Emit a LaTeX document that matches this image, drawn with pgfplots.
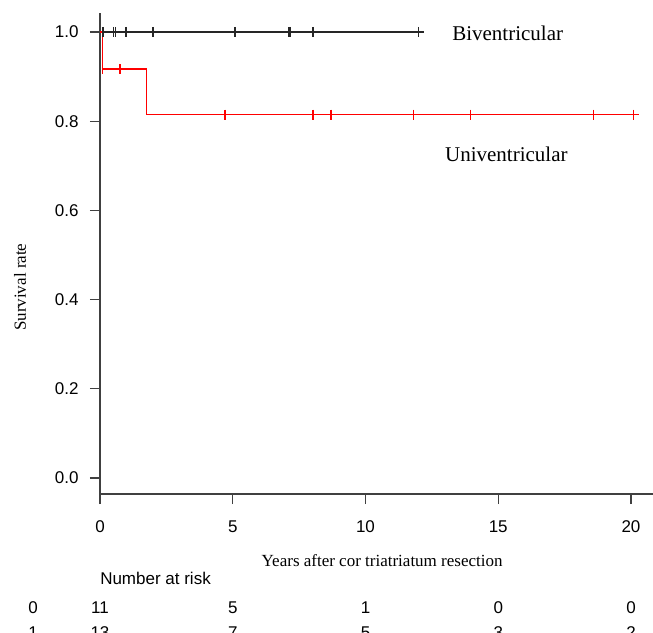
\documentclass[border=0pt]{standalone}
\usepackage{fontspec}
\setmainfont{Liberation Serif}
\newfontfamily\sansf{Liberation Sans}
\usepackage{pgfplots}
\pgfplotsset{compat=1.18}
\begin{document}
\begin{tikzpicture}[x=0.75pt,y=0.75pt]
\useasboundingbox (0,0) rectangle (653,632);
\clip (0,0) rectangle (653,632);
\begin{axis}[
  at={(75pt,103.5pt)}, anchor=south west,
  scale only axis, width=418.16pt, height=360.75pt,
  xmin=0, xmax=21, ymin=-0.0359, ymax=1.0426,
  axis x line=bottom, axis y line=left,
  axis line style={-, line width=0.9pt, black!75},
  tick style={line width=0.9pt, black!75},
  tick align=outside, major tick length=7.5pt,
  xtick={0,5,10,15,20}, ytick={0,0.2,0.4,0.6,0.8,1},
  minor tick num=0,
  /pgf/number format/assume math mode=true,
  ticklabel style={font=\sansf\fontsize{12.75}{15}\selectfont},
  xticklabel style={yshift=-9pt},
  yticklabel style={xshift=-5pt, /pgf/number format/.cd, fixed, fixed zerofill, precision=1},
  clip=false,
  every axis x label/.style={at={(axis description cs:0.506,0)}, yshift=-50.25pt, anchor=center, font=\fontsize{12.75}{15}\selectfont},
  every axis y label/.style={at={(axis description cs:0,0.43)}, xshift=-60pt, rotate=90, anchor=center, font=\fontsize{12.75}{15}\selectfont},
  xlabel={Years after cor triatriatum resection},
  ylabel={Survival rate},
]
% Biventricular
\addplot[black!85, line width=0.9pt] coordinates {(0,1) (12.2,1)};
\addplot[black!85, only marks, mark=|, mark size=3.75pt, mark options={line width=1.1pt}] coordinates {
  (0.12,1) (0.5,1) (0.59,1) (0.98,1) (2.0,1) (5.08,1) (7.12,1) (7.16,1) (8.03,1) (11.99,1)};
% Univentricular
\addplot[red, line width=0.9pt] coordinates {
  (0,1) (0.1,1) (0.1,0.917) (1.76,0.917) (1.76,0.815) (20.31,0.815)};
\addplot[red, only marks, mark=|, mark size=3.75pt, mark options={line width=1.1pt}] coordinates {
  (0.1,0.917) (0.75,0.917) (4.71,0.815) (8.03,0.815) (8.70,0.815) (11.8,0.815)
  (13.96,0.815) (18.58,0.815) (20.09,0.815)};
\node[anchor=west, inner sep=0pt, font=\fontsize{15.75}{18}\selectfont] at (axis cs:13.26,0.998) {Biventricular};
\node[anchor=west, inner sep=0pt, font=\fontsize{15.75}{18}\selectfont] at (axis cs:12.99,0.7265) {Univentricular};
% Number at risk
\begin{scope}[font=\sansf\fontsize{12.75}{15}\selectfont]
\node[anchor=west, inner sep=0pt] at (axis cs:0,-0.2242) {Number at risk};
\node at (axis cs:-2.52,-0.2915) {0};
\node at (axis cs:0,-0.2915) {11};
\node at (axis cs:5,-0.2915) {5};
\node at (axis cs:10,-0.2915) {1};
\node at (axis cs:15,-0.2915) {0};
\node at (axis cs:20,-0.2915) {0};
\node at (axis cs:-2.52,-0.3475) {1};
\node at (axis cs:0,-0.3475) {13};
\node at (axis cs:5,-0.3475) {7};
\node at (axis cs:10,-0.3475) {5};
\node at (axis cs:15,-0.3475) {3};
\node at (axis cs:20,-0.3475) {2};
\end{scope}
\end{axis}
\end{tikzpicture}
\end{document}
